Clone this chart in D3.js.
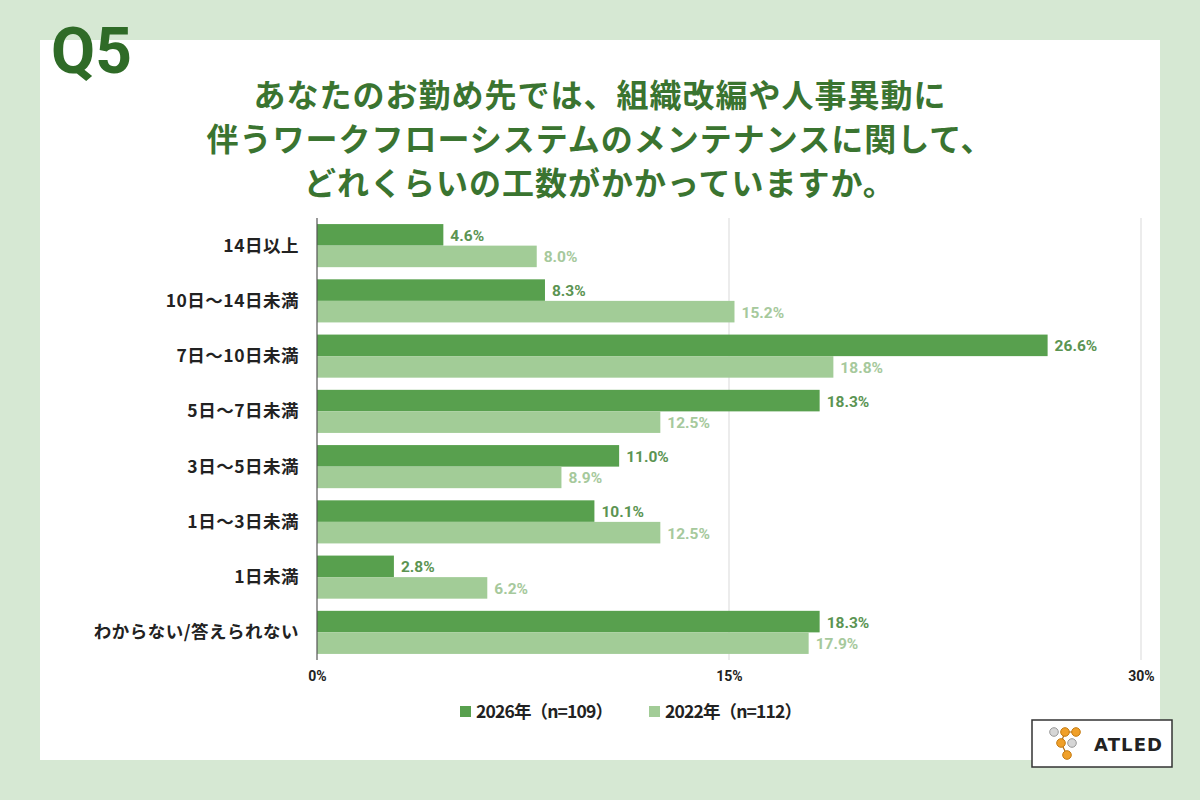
<!DOCTYPE html>
<html>
<head>
<meta charset="utf-8">
<script src="https://cdn.jsdelivr.net/npm/d3@7"></script>
<style>
  html, body { margin: 0; padding: 0; background: #d6e8d3; }
  svg { display: block; }
</style>
</head>
<body>
<div id="chart"></div>
<script>
// Q5 horizontal grouped bar chart (2026 vs 2022)
const categories = ['14日以上', '10日～14日未満', '7日～10日未満', '5日～7日未満', '3日～5日未満', '1日～3日未満', '1日未満', 'わからない/答えられない'];
const values2026 = [4.6, 8.3, 26.6, 18.3, 11.0, 10.1, 2.8, 18.3];
const values2022 = [8.0, 15.2, 18.8, 12.5, 8.9, 12.5, 6.2, 17.9];
const seriesNames = ['2026年（n=109）', '2022年（n=112）'];
const xTicks = [0, 15, 30];
const titleLines = [
  'あなたのお勤め先では、組織改編や人事異動に',
  '伴うワークフローシステムのメンテナンスに関して、',
  'どれくらいの工数がかかっていますか。'
];

const W = 1200, H = 800;
const darkGreen = '#58a04e', lightGreen = '#a2cc97';
const darkLabel = '#5b9452', lightLabel = '#a6c99c';
const font = '"Noto Sans CJK JP", "Noto Sans", sans-serif';

const svg = d3.select('#chart').append('svg')
  .attr('width', W)
  .attr('height', H);

// background + white panel
svg.append('rect').attr('width', W).attr('height', H).attr('fill', '#d6e8d3');
svg.append('rect').attr('x', 40).attr('y', 40).attr('width', 1120).attr('height', 720).attr('fill', '#ffffff');

// Q5 mark
svg.append('text')
  .attr('x', 51).attr('y', 73)
  .text('Q5')
  .attr('fill', '#2f6b27')
  .style('font-family', 'Roboto, "Liberation Sans", sans-serif')
  .style('font-size', '64px')
  .style('font-weight', '700');

// title
svg.append('g').selectAll('text')
  .data(titleLines)
  .join('text')
    .attr('x', 600)
    .attr('y', (d, i) => 107 + i * 44)
    .attr('text-anchor', 'middle')
    .text(d => d)
    .attr('fill', '#3a7430')
    .attr('letter-spacing', '1px')
    .style('font-family', font)
    .style('font-size', '32px')
    .style('font-weight', '700');

// scales
const x = d3.scaleLinear().domain([0, 30]).range([317, 1141]);
const y = d3.scaleBand().domain(categories).range([218, 660]).paddingInner(0.22).paddingOuter(0.11);
const ySub = d3.scaleBand().domain(['a', 'b']).range([0, y.bandwidth()]);

// gridlines
svg.append('g').selectAll('line')
  .data(xTicks.slice(1))
  .join('line')
    .attr('x1', d => x(d)).attr('x2', d => x(d))
    .attr('y1', 218).attr('y2', 660)
    .attr('stroke', '#d9d9d9')
    .attr('stroke-width', 1);

// bars
const groups = svg.append('g').selectAll('g')
  .data(categories.map((c, i) => ({ c, a: values2026[i], b: values2022[i] })))
  .join('g')
    .attr('transform', d => `translate(0,${y(d.c)})`);

groups.append('rect')
  .attr('x', x(0)).attr('y', ySub('a'))
  .attr('width', d => x(d.a) - x(0)).attr('height', ySub.bandwidth())
  .attr('fill', darkGreen);
groups.append('rect')
  .attr('x', x(0)).attr('y', ySub('b'))
  .attr('width', d => x(d.b) - x(0)).attr('height', ySub.bandwidth())
  .attr('fill', lightGreen);

groups.append('text')
  .attr('x', d => x(d.a) + 7).attr('y', ySub('a') + ySub.bandwidth() / 2 + 6)
  .text(d => d.a.toFixed(1) + '%')
  .attr('fill', darkLabel)
  .style('font-family', 'Roboto, sans-serif').style('font-size', '15.5px').style('font-weight', '700');
groups.append('text')
  .attr('x', d => x(d.b) + 7).attr('y', ySub('b') + ySub.bandwidth() / 2 + 6)
  .text(d => d.b.toFixed(1) + '%')
  .attr('fill', lightLabel)
  .style('font-family', 'Roboto, sans-serif').style('font-size', '15.5px').style('font-weight', '700');

// category labels
svg.append('g').selectAll('text')
  .data(categories)
  .join('text')
    .attr('x', 299)
    .attr('y', d => y(d) + y.bandwidth() / 2 + 6)
    .attr('text-anchor', 'end')
    .text(d => d)
    .attr('fill', '#222')
    .attr('letter-spacing', '0.5px')
    .style('font-family', font)
    .style('font-size', '17.5px')
    .style('font-weight', '700');

// y axis line
svg.append('line')
  .attr('x1', x(0)).attr('x2', x(0))
  .attr('y1', 218).attr('y2', 660)
  .attr('stroke', '#555').attr('stroke-width', 1.2);

// x tick labels
const xAxis = svg.append('g')
  .attr('transform', 'translate(0,668)')
  .call(d3.axisBottom(x).tickValues(xTicks).tickFormat(d => d + '%').tickSize(0).tickPadding(3));
xAxis.select('.domain').remove();
xAxis.selectAll('text')
  .attr('fill', '#222')
  .style('font-family', 'Roboto, sans-serif')
  .style('font-size', '14px')
  .style('font-weight', '700');

// legend
const legend = svg.append('g').attr('transform', 'translate(460,716)');
const legendX = [0, 189];
const legendColors = [darkGreen, lightGreen];
seriesNames.forEach((name, i) => {
  legend.append('rect')
    .attr('x', legendX[i]).attr('y', -10).attr('width', 11).attr('height', 11)
    .attr('fill', legendColors[i]);
  legend.append('text')
    .attr('x', legendX[i] + 16).attr('y', 2)
    .text(name)
    .attr('fill', '#222')
    .attr('textLength', 137)
    .style('font-family', font)
    .style('font-size', '17.5px')
    .style('font-weight', '700');
});

// ATLED logo
const logo = svg.append('g').attr('transform', 'translate(1032,720)');
logo.append('rect').attr('width', 140).attr('height', 47).attr('fill', '#fff').attr('stroke', '#333').attr('stroke-width', 1.5);
const nodes = [[22, 12, 'g'], [33, 12, 'o'], [44, 12, 'o'], [29, 23, 'o'], [40, 23, 'g'], [35, 35, 'o']];
logo.append('path')
  .attr('d', 'M33,12 L44,12 M33,12 L29,23 L35,35')
  .attr('stroke', '#b06a10').attr('stroke-width', 1.2).attr('fill', 'none');
logo.selectAll('circle')
  .data(nodes)
  .join('circle')
    .attr('cx', d => d[0]).attr('cy', d => d[1]).attr('r', 4.3)
    .attr('fill', d => d[2] === 'o' ? '#f0a02a' : '#d6d6d6')
    .attr('stroke', d => d[2] === 'o' ? '#c47a10' : '#999')
    .attr('stroke-width', 1);
logo.append('text')
  .attr('x', 62).attr('y', 31)
  .text('ATLED')
  .attr('fill', '#222')
  .attr('textLength', 68)
  .style('font-family', '"DejaVu Sans", sans-serif')
  .style('font-size', '18px')
  .style('font-weight', '700');
</script>
</body>
</html>
